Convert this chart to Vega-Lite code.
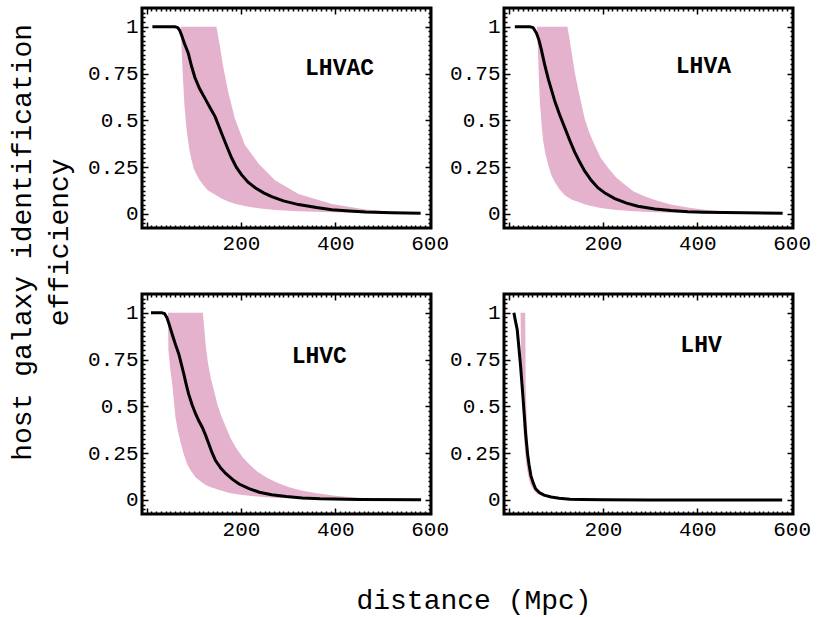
{
  "$schema": "https://vega.github.io/schema/vega-lite/v6.json",
  "padding": {"left": 9, "top": 0, "right": 0, "bottom": 0},
  "background": "white",
  "config": {
    "view": {"stroke": "black", "strokeWidth": 3},
    "axis": {"domain": false, "grid": false, "tickColor": "black", "tickWidth": 1.5, "labelFont": "Liberation Mono", "labelFontSize": 21, "labelColor": "black", "labelPadding": 10, "labelOverlap": false, "labelFlush": false, "labelBound": false, "title": null},
    "title": {"font": "Liberation Mono", "fontSize": 28, "fontWeight": "normal", "color": "black"}
  },
  "datasets": {
    "band": [
      {"panel": "LHVAC", "d": 72, "lo": 1, "hi": 1},
      {"panel": "LHVAC", "d": 74, "lo": 0.88, "hi": 1},
      {"panel": "LHVAC", "d": 77, "lo": 0.72, "hi": 1},
      {"panel": "LHVAC", "d": 80, "lo": 0.58, "hi": 1},
      {"panel": "LHVAC", "d": 85, "lo": 0.44, "hi": 1},
      {"panel": "LHVAC", "d": 90, "lo": 0.35, "hi": 1},
      {"panel": "LHVAC", "d": 95, "lo": 0.29, "hi": 1},
      {"panel": "LHVAC", "d": 100, "lo": 0.24, "hi": 1},
      {"panel": "LHVAC", "d": 110, "lo": 0.19, "hi": 1},
      {"panel": "LHVAC", "d": 120, "lo": 0.155, "hi": 1},
      {"panel": "LHVAC", "d": 130, "lo": 0.125, "hi": 1},
      {"panel": "LHVAC", "d": 148, "lo": 0.098, "hi": 1},
      {"panel": "LHVAC", "d": 155, "lo": 0.088, "hi": 0.9},
      {"panel": "LHVAC", "d": 162, "lo": 0.078, "hi": 0.79},
      {"panel": "LHVAC", "d": 173, "lo": 0.066, "hi": 0.65},
      {"panel": "LHVAC", "d": 187, "lo": 0.055, "hi": 0.51},
      {"panel": "LHVAC", "d": 208, "lo": 0.042, "hi": 0.37},
      {"panel": "LHVAC", "d": 237, "lo": 0.03, "hi": 0.27},
      {"panel": "LHVAC", "d": 272, "lo": 0.021, "hi": 0.18},
      {"panel": "LHVAC", "d": 322, "lo": 0.014, "hi": 0.107},
      {"panel": "LHVAC", "d": 393, "lo": 0.009, "hi": 0.053},
      {"panel": "LHVAC", "d": 464, "lo": 0.006, "hi": 0.024},
      {"panel": "LHVAC", "d": 520, "lo": 0.004, "hi": 0.012},
      {"panel": "LHVAC", "d": 580, "lo": 0.003, "hi": 0.006},
      {"panel": "LHVA", "d": 60, "lo": 1, "hi": 1},
      {"panel": "LHVA", "d": 62, "lo": 0.88, "hi": 1},
      {"panel": "LHVA", "d": 64, "lo": 0.72, "hi": 1},
      {"panel": "LHVA", "d": 66, "lo": 0.6, "hi": 1},
      {"panel": "LHVA", "d": 70, "lo": 0.47, "hi": 1},
      {"panel": "LHVA", "d": 73, "lo": 0.39, "hi": 1},
      {"panel": "LHVA", "d": 78, "lo": 0.32, "hi": 1},
      {"panel": "LHVA", "d": 84, "lo": 0.26, "hi": 1},
      {"panel": "LHVA", "d": 90, "lo": 0.21, "hi": 1},
      {"panel": "LHVA", "d": 98, "lo": 0.17, "hi": 1},
      {"panel": "LHVA", "d": 108, "lo": 0.13, "hi": 1},
      {"panel": "LHVA", "d": 119, "lo": 0.1, "hi": 1},
      {"panel": "LHVA", "d": 124.5, "lo": 0.09, "hi": 1},
      {"panel": "LHVA", "d": 128, "lo": 0.085, "hi": 0.95},
      {"panel": "LHVA", "d": 133, "lo": 0.077, "hi": 0.87},
      {"panel": "LHVA", "d": 140, "lo": 0.07, "hi": 0.76},
      {"panel": "LHVA", "d": 147, "lo": 0.065, "hi": 0.67},
      {"panel": "LHVA", "d": 154, "lo": 0.059, "hi": 0.59},
      {"panel": "LHVA", "d": 161, "lo": 0.052, "hi": 0.51},
      {"panel": "LHVA", "d": 170, "lo": 0.045, "hi": 0.44},
      {"panel": "LHVA", "d": 182, "lo": 0.038, "hi": 0.37},
      {"panel": "LHVA", "d": 195, "lo": 0.032, "hi": 0.3},
      {"panel": "LHVA", "d": 211, "lo": 0.026, "hi": 0.245},
      {"panel": "LHVA", "d": 228, "lo": 0.021, "hi": 0.195},
      {"panel": "LHVA", "d": 246, "lo": 0.018, "hi": 0.157},
      {"panel": "LHVA", "d": 265, "lo": 0.015, "hi": 0.12},
      {"panel": "LHVA", "d": 288, "lo": 0.012, "hi": 0.094},
      {"panel": "LHVA", "d": 315, "lo": 0.009, "hi": 0.07},
      {"panel": "LHVA", "d": 344, "lo": 0.007, "hi": 0.05},
      {"panel": "LHVA", "d": 380, "lo": 0.005, "hi": 0.034},
      {"panel": "LHVA", "d": 415, "lo": 0.004, "hi": 0.023},
      {"panel": "LHVA", "d": 450, "lo": 0.003, "hi": 0.015},
      {"panel": "LHVA", "d": 486, "lo": 0.003, "hi": 0.01},
      {"panel": "LHVA", "d": 530, "lo": 0.002, "hi": 0.006},
      {"panel": "LHVC", "d": 45, "lo": 1, "hi": 1},
      {"panel": "LHVC", "d": 46, "lo": 0.8, "hi": 1},
      {"panel": "LHVC", "d": 50, "lo": 0.7, "hi": 1},
      {"panel": "LHVC", "d": 54, "lo": 0.62, "hi": 1},
      {"panel": "LHVC", "d": 58, "lo": 0.52, "hi": 1},
      {"panel": "LHVC", "d": 61, "lo": 0.44, "hi": 1},
      {"panel": "LHVC", "d": 66, "lo": 0.37, "hi": 1},
      {"panel": "LHVC", "d": 71, "lo": 0.316, "hi": 1},
      {"panel": "LHVC", "d": 78, "lo": 0.25, "hi": 1},
      {"panel": "LHVC", "d": 86, "lo": 0.19, "hi": 1},
      {"panel": "LHVC", "d": 95, "lo": 0.15, "hi": 1},
      {"panel": "LHVC", "d": 104, "lo": 0.12, "hi": 1},
      {"panel": "LHVC", "d": 119, "lo": 0.09, "hi": 1},
      {"panel": "LHVC", "d": 122, "lo": 0.085, "hi": 0.92},
      {"panel": "LHVC", "d": 125, "lo": 0.08, "hi": 0.83},
      {"panel": "LHVC", "d": 130, "lo": 0.074, "hi": 0.73},
      {"panel": "LHVC", "d": 136, "lo": 0.068, "hi": 0.65},
      {"panel": "LHVC", "d": 143, "lo": 0.062, "hi": 0.58},
      {"panel": "LHVC", "d": 150, "lo": 0.056, "hi": 0.51},
      {"panel": "LHVC", "d": 158, "lo": 0.05, "hi": 0.45},
      {"panel": "LHVC", "d": 168, "lo": 0.042, "hi": 0.39},
      {"panel": "LHVC", "d": 178, "lo": 0.036, "hi": 0.33},
      {"panel": "LHVC", "d": 189, "lo": 0.032, "hi": 0.28},
      {"panel": "LHVC", "d": 203, "lo": 0.026, "hi": 0.23},
      {"panel": "LHVC", "d": 218, "lo": 0.022, "hi": 0.19},
      {"panel": "LHVC", "d": 235, "lo": 0.018, "hi": 0.15},
      {"panel": "LHVC", "d": 254, "lo": 0.014, "hi": 0.12},
      {"panel": "LHVC", "d": 278, "lo": 0.011, "hi": 0.09},
      {"panel": "LHVC", "d": 304, "lo": 0.009, "hi": 0.067},
      {"panel": "LHVC", "d": 330, "lo": 0.006, "hi": 0.049},
      {"panel": "LHVC", "d": 361, "lo": 0.005, "hi": 0.036},
      {"panel": "LHVC", "d": 395, "lo": 0.004, "hi": 0.024},
      {"panel": "LHVC", "d": 432, "lo": 0.003, "hi": 0.014},
      {"panel": "LHVC", "d": 470, "lo": 0.002, "hi": 0.009},
      {"panel": "LHVC", "d": 504, "lo": 0.002, "hi": 0.005},
      {"panel": "LHVC", "d": 540, "lo": 0.001, "hi": 0.003},
      {"panel": "LHV", "d": 25, "lo": 1, "hi": 1},
      {"panel": "LHV", "d": 26, "lo": 0.8, "hi": 1},
      {"panel": "LHV", "d": 28, "lo": 0.62, "hi": 1},
      {"panel": "LHV", "d": 30, "lo": 0.45, "hi": 1},
      {"panel": "LHV", "d": 32, "lo": 0.35, "hi": 1},
      {"panel": "LHV", "d": 34, "lo": 0.28, "hi": 1},
      {"panel": "LHV", "d": 35, "lo": 0.25, "hi": 1},
      {"panel": "LHV", "d": 36, "lo": 0.22, "hi": 0.62},
      {"panel": "LHV", "d": 38, "lo": 0.18, "hi": 0.45},
      {"panel": "LHV", "d": 40, "lo": 0.15, "hi": 0.34},
      {"panel": "LHV", "d": 43, "lo": 0.11, "hi": 0.24},
      {"panel": "LHV", "d": 47, "lo": 0.08, "hi": 0.16},
      {"panel": "LHV", "d": 50, "lo": 0.065, "hi": 0.12},
      {"panel": "LHV", "d": 55, "lo": 0.045, "hi": 0.08},
      {"panel": "LHV", "d": 60, "lo": 0.035, "hi": 0.06},
      {"panel": "LHV", "d": 68, "lo": 0.024, "hi": 0.04},
      {"panel": "LHV", "d": 75, "lo": 0.018, "hi": 0.03},
      {"panel": "LHV", "d": 86, "lo": 0.012, "hi": 0.02},
      {"panel": "LHV", "d": 100, "lo": 0.007, "hi": 0.012},
      {"panel": "LHV", "d": 120, "lo": 0.004, "hi": 0.006}
    ],
    "line": [
      {"panel": "LHVAC", "d": 12, "e": 1},
      {"panel": "LHVAC", "d": 40, "e": 1},
      {"panel": "LHVAC", "d": 60, "e": 1},
      {"panel": "LHVAC", "d": 66, "e": 0.995},
      {"panel": "LHVAC", "d": 70, "e": 0.98},
      {"panel": "LHVAC", "d": 74, "e": 0.955},
      {"panel": "LHVAC", "d": 80, "e": 0.91},
      {"panel": "LHVAC", "d": 88, "e": 0.86},
      {"panel": "LHVAC", "d": 95, "e": 0.79},
      {"panel": "LHVAC", "d": 102, "e": 0.73},
      {"panel": "LHVAC", "d": 112, "e": 0.67},
      {"panel": "LHVAC", "d": 123, "e": 0.62},
      {"panel": "LHVAC", "d": 135, "e": 0.565},
      {"panel": "LHVAC", "d": 145, "e": 0.52},
      {"panel": "LHVAC", "d": 152, "e": 0.475},
      {"panel": "LHVAC", "d": 159, "e": 0.43},
      {"panel": "LHVAC", "d": 170, "e": 0.36},
      {"panel": "LHVAC", "d": 180, "e": 0.3},
      {"panel": "LHVAC", "d": 190, "e": 0.25},
      {"panel": "LHVAC", "d": 201, "e": 0.21},
      {"panel": "LHVAC", "d": 215, "e": 0.17},
      {"panel": "LHVAC", "d": 230, "e": 0.14},
      {"panel": "LHVAC", "d": 248, "e": 0.113},
      {"panel": "LHVAC", "d": 265, "e": 0.093},
      {"panel": "LHVAC", "d": 290, "e": 0.07},
      {"panel": "LHVAC", "d": 322, "e": 0.05},
      {"panel": "LHVAC", "d": 360, "e": 0.034},
      {"panel": "LHVAC", "d": 393, "e": 0.023},
      {"panel": "LHVAC", "d": 430, "e": 0.016},
      {"panel": "LHVAC", "d": 464, "e": 0.011},
      {"panel": "LHVAC", "d": 520, "e": 0.007},
      {"panel": "LHVAC", "d": 581, "e": 0.004},
      {"panel": "LHVA", "d": 13, "e": 1},
      {"panel": "LHVA", "d": 45, "e": 1},
      {"panel": "LHVA", "d": 52, "e": 0.995},
      {"panel": "LHVA", "d": 59, "e": 0.965},
      {"panel": "LHVA", "d": 64, "e": 0.93},
      {"panel": "LHVA", "d": 69, "e": 0.88},
      {"panel": "LHVA", "d": 76, "e": 0.8},
      {"panel": "LHVA", "d": 84, "e": 0.72},
      {"panel": "LHVA", "d": 91, "e": 0.66},
      {"panel": "LHVA", "d": 98, "e": 0.6},
      {"panel": "LHVA", "d": 108, "e": 0.53},
      {"panel": "LHVA", "d": 119, "e": 0.46},
      {"panel": "LHVA", "d": 130, "e": 0.39},
      {"panel": "LHVA", "d": 140, "e": 0.33},
      {"panel": "LHVA", "d": 150, "e": 0.28},
      {"panel": "LHVA", "d": 161, "e": 0.23},
      {"panel": "LHVA", "d": 175, "e": 0.18},
      {"panel": "LHVA", "d": 189, "e": 0.14},
      {"panel": "LHVA", "d": 205, "e": 0.11},
      {"panel": "LHVA", "d": 225, "e": 0.082},
      {"panel": "LHVA", "d": 250, "e": 0.058},
      {"panel": "LHVA", "d": 274, "e": 0.041},
      {"panel": "LHVA", "d": 310, "e": 0.027},
      {"panel": "LHVA", "d": 344, "e": 0.018},
      {"panel": "LHVA", "d": 380, "e": 0.012},
      {"panel": "LHVA", "d": 415, "e": 0.009},
      {"panel": "LHVA", "d": 500, "e": 0.006},
      {"panel": "LHVA", "d": 581, "e": 0.004},
      {"panel": "LHVC", "d": 9, "e": 1},
      {"panel": "LHVC", "d": 32, "e": 1},
      {"panel": "LHVC", "d": 38, "e": 0.995},
      {"panel": "LHVC", "d": 43, "e": 0.973},
      {"panel": "LHVC", "d": 48, "e": 0.935},
      {"panel": "LHVC", "d": 54, "e": 0.885},
      {"panel": "LHVC", "d": 61, "e": 0.83},
      {"panel": "LHVC", "d": 68, "e": 0.78},
      {"panel": "LHVC", "d": 74, "e": 0.72},
      {"panel": "LHVC", "d": 79, "e": 0.67},
      {"panel": "LHVC", "d": 84, "e": 0.615},
      {"panel": "LHVC", "d": 89, "e": 0.565},
      {"panel": "LHVC", "d": 96, "e": 0.51},
      {"panel": "LHVC", "d": 104, "e": 0.458},
      {"panel": "LHVC", "d": 111, "e": 0.42},
      {"panel": "LHVC", "d": 118, "e": 0.387},
      {"panel": "LHVC", "d": 125, "e": 0.345},
      {"panel": "LHVC", "d": 132, "e": 0.298},
      {"panel": "LHVC", "d": 139, "e": 0.25},
      {"panel": "LHVC", "d": 146, "e": 0.21},
      {"panel": "LHVC", "d": 157, "e": 0.17},
      {"panel": "LHVC", "d": 168, "e": 0.14},
      {"panel": "LHVC", "d": 182, "e": 0.11},
      {"panel": "LHVC", "d": 196, "e": 0.085},
      {"panel": "LHVC", "d": 217, "e": 0.06},
      {"panel": "LHVC", "d": 239, "e": 0.041},
      {"panel": "LHVC", "d": 265, "e": 0.028},
      {"panel": "LHVC", "d": 296, "e": 0.018},
      {"panel": "LHVC", "d": 330, "e": 0.011},
      {"panel": "LHVC", "d": 368, "e": 0.006},
      {"panel": "LHVC", "d": 450, "e": 0.003},
      {"panel": "LHVC", "d": 582, "e": 0.001},
      {"panel": "LHV", "d": 11, "e": 1},
      {"panel": "LHV", "d": 14, "e": 0.96},
      {"panel": "LHV", "d": 18, "e": 0.91},
      {"panel": "LHV", "d": 21, "e": 0.83},
      {"panel": "LHV", "d": 25, "e": 0.72},
      {"panel": "LHV", "d": 29, "e": 0.59},
      {"panel": "LHV", "d": 33, "e": 0.455},
      {"panel": "LHV", "d": 36, "e": 0.35},
      {"panel": "LHV", "d": 40, "e": 0.245},
      {"panel": "LHV", "d": 43, "e": 0.19},
      {"panel": "LHV", "d": 47, "e": 0.13},
      {"panel": "LHV", "d": 52, "e": 0.09},
      {"panel": "LHV", "d": 57, "e": 0.06},
      {"panel": "LHV", "d": 65, "e": 0.04},
      {"panel": "LHV", "d": 75, "e": 0.026},
      {"panel": "LHV", "d": 90, "e": 0.016},
      {"panel": "LHV", "d": 107, "e": 0.009},
      {"panel": "LHV", "d": 130, "e": 0.004},
      {"panel": "LHV", "d": 156, "e": 0.002},
      {"panel": "LHV", "d": 200, "e": 0.001},
      {"panel": "LHV", "d": 300, "e": 0},
      {"panel": "LHV", "d": 580, "e": 0}
    ],
    "labels": [
      {"panel": "LHVAC", "lx": 409, "ly": 0.78},
      {"panel": "LHVA", "lx": 413, "ly": 0.79},
      {"panel": "LHVC", "lx": 366, "ly": 0.77},
      {"panel": "LHV", "lx": 408, "ly": 0.83}
    ]
  },
  "title": {"text": ["host galaxy identification", "efficiency"], "orient": "left", "anchor": "middle", "lineHeight": 37, "offset": 12, "dx": 65},
  "vconcat": [
    {
      "title": {"text": "distance (Mpc)", "orient": "bottom", "anchor": "middle", "offset": 43, "dx": 25},
      "columns": 2,
      "spacing": {"row": 66, "column": 73},
      "bounds": "flush",
      "concat": [
        {
          "width": 289, "height": 220,
          "layer": [
            {"data": {"name": "band"}, "transform": [{"filter": "datum.panel === 'LHVAC'"}],
             "mark": {"type": "area", "color": "#e4b2cc", "opacity": 1},
             "encoding": {
               "x": {"field": "d", "type": "quantitative", "scale": {"domain": [-10, 603], "nice": false, "zero": false},
                     "axis": {"orient": "bottom", "values": [0,10,20,30,40,50,60,70,80,90,100,110,120,130,140,150,160,170,180,190,200,210,220,230,240,250,260,270,280,290,300,310,320,330,340,350,360,370,380,390,400,410,420,430,440,450,460,470,480,490,500,510,520,530,540,550,560,570,580,590,600], "tickSize": {"condition": {"test": "datum.value % 200 === 0", "value": -6}, "value": -3}, "labelExpr": "datum.value % 200 === 0 && datum.value > 0 ? '' + datum.value : ''"}},
               "y": {"field": "lo", "type": "quantitative", "scale": {"domain": [-0.075, 1.1], "nice": false, "zero": false},
                     "axis": {"orient": "left", "values": [-0.05,-0.025,0,0.025,0.05,0.075,0.1,0.125,0.15,0.175,0.2,0.225,0.25,0.275,0.3,0.325,0.35,0.375,0.4,0.425,0.45,0.475,0.5,0.525,0.55,0.575,0.6,0.625,0.65,0.675,0.7,0.725,0.75,0.775,0.8,0.825,0.85,0.875,0.9,0.925,0.95,0.975,1,1.025,1.05,1.075], "tickSize": {"condition": {"test": "abs(datum.value*4 - round(datum.value*4)) < 0.001", "value": -6}, "value": -3}, "labelExpr": "abs(datum.value*4 - round(datum.value*4)) < 0.001 && datum.value >= 0 && datum.value <= 1 ? '' + datum.value : ''"}},
               "y2": {"field": "hi"}
             }},
            {"data": {"name": "line"}, "transform": [{"filter": "datum.panel === 'LHVAC'"}],
             "mark": {"type": "line", "color": "black", "strokeWidth": 3},
             "encoding": {
               "x": {"field": "d", "type": "quantitative", "scale": {"domain": [-10, 603], "nice": false, "zero": false},
                     "axis": {"orient": "top", "labels": false, "values": [0,10,20,30,40,50,60,70,80,90,100,110,120,130,140,150,160,170,180,190,200,210,220,230,240,250,260,270,280,290,300,310,320,330,340,350,360,370,380,390,400,410,420,430,440,450,460,470,480,490,500,510,520,530,540,550,560,570,580,590,600], "tickSize": {"condition": {"test": "datum.value % 200 === 0", "value": -6}, "value": -3}}},
               "y": {"field": "e", "type": "quantitative", "scale": {"domain": [-0.075, 1.1], "nice": false, "zero": false},
                     "axis": {"orient": "right", "labels": false, "values": [-0.05,-0.025,0,0.025,0.05,0.075,0.1,0.125,0.15,0.175,0.2,0.225,0.25,0.275,0.3,0.325,0.35,0.375,0.4,0.425,0.45,0.475,0.5,0.525,0.55,0.575,0.6,0.625,0.65,0.675,0.7,0.725,0.75,0.775,0.8,0.825,0.85,0.875,0.9,0.925,0.95,0.975,1,1.025,1.05,1.075], "tickSize": {"condition": {"test": "abs(datum.value*4 - round(datum.value*4)) < 0.001", "value": -6}, "value": -3}}}
             }},
            {"data": {"name": "labels"}, "transform": [{"filter": "datum.panel === 'LHVAC'"}],
             "mark": {"type": "text", "font": "Liberation Mono", "fontWeight": "bold", "fontSize": 23, "color": "black"},
             "encoding": {
               "x": {"field": "lx", "type": "quantitative", "axis": null},
               "y": {"field": "ly", "type": "quantitative", "axis": null},
               "text": {"field": "panel"}
             }}
          ],
          "resolve": {"axis": {"x": "independent", "y": "independent"}}
        },
        {
          "width": 289, "height": 220,
          "layer": [
            {"data": {"name": "band"}, "transform": [{"filter": "datum.panel === 'LHVA'"}],
             "mark": {"type": "area", "color": "#e4b2cc", "opacity": 1},
             "encoding": {
               "x": {"field": "d", "type": "quantitative", "scale": {"domain": [-10, 603], "nice": false, "zero": false},
                     "axis": {"orient": "bottom", "values": [0,10,20,30,40,50,60,70,80,90,100,110,120,130,140,150,160,170,180,190,200,210,220,230,240,250,260,270,280,290,300,310,320,330,340,350,360,370,380,390,400,410,420,430,440,450,460,470,480,490,500,510,520,530,540,550,560,570,580,590,600], "tickSize": {"condition": {"test": "datum.value % 200 === 0", "value": -6}, "value": -3}, "labelExpr": "datum.value % 200 === 0 && datum.value > 0 ? '' + datum.value : ''"}},
               "y": {"field": "lo", "type": "quantitative", "scale": {"domain": [-0.075, 1.1], "nice": false, "zero": false},
                     "axis": {"orient": "left", "values": [-0.05,-0.025,0,0.025,0.05,0.075,0.1,0.125,0.15,0.175,0.2,0.225,0.25,0.275,0.3,0.325,0.35,0.375,0.4,0.425,0.45,0.475,0.5,0.525,0.55,0.575,0.6,0.625,0.65,0.675,0.7,0.725,0.75,0.775,0.8,0.825,0.85,0.875,0.9,0.925,0.95,0.975,1,1.025,1.05,1.075], "tickSize": {"condition": {"test": "abs(datum.value*4 - round(datum.value*4)) < 0.001", "value": -6}, "value": -3}, "labelExpr": "abs(datum.value*4 - round(datum.value*4)) < 0.001 && datum.value >= 0 && datum.value <= 1 ? '' + datum.value : ''"}},
               "y2": {"field": "hi"}
             }},
            {"data": {"name": "line"}, "transform": [{"filter": "datum.panel === 'LHVA'"}],
             "mark": {"type": "line", "color": "black", "strokeWidth": 3},
             "encoding": {
               "x": {"field": "d", "type": "quantitative", "scale": {"domain": [-10, 603], "nice": false, "zero": false},
                     "axis": {"orient": "top", "labels": false, "values": [0,10,20,30,40,50,60,70,80,90,100,110,120,130,140,150,160,170,180,190,200,210,220,230,240,250,260,270,280,290,300,310,320,330,340,350,360,370,380,390,400,410,420,430,440,450,460,470,480,490,500,510,520,530,540,550,560,570,580,590,600], "tickSize": {"condition": {"test": "datum.value % 200 === 0", "value": -6}, "value": -3}}},
               "y": {"field": "e", "type": "quantitative", "scale": {"domain": [-0.075, 1.1], "nice": false, "zero": false},
                     "axis": {"orient": "right", "labels": false, "values": [-0.05,-0.025,0,0.025,0.05,0.075,0.1,0.125,0.15,0.175,0.2,0.225,0.25,0.275,0.3,0.325,0.35,0.375,0.4,0.425,0.45,0.475,0.5,0.525,0.55,0.575,0.6,0.625,0.65,0.675,0.7,0.725,0.75,0.775,0.8,0.825,0.85,0.875,0.9,0.925,0.95,0.975,1,1.025,1.05,1.075], "tickSize": {"condition": {"test": "abs(datum.value*4 - round(datum.value*4)) < 0.001", "value": -6}, "value": -3}}}
             }},
            {"data": {"name": "labels"}, "transform": [{"filter": "datum.panel === 'LHVA'"}],
             "mark": {"type": "text", "font": "Liberation Mono", "fontWeight": "bold", "fontSize": 23, "color": "black"},
             "encoding": {
               "x": {"field": "lx", "type": "quantitative", "axis": null},
               "y": {"field": "ly", "type": "quantitative", "axis": null},
               "text": {"field": "panel"}
             }}
          ],
          "resolve": {"axis": {"x": "independent", "y": "independent"}}
        },
        {
          "width": 289, "height": 220,
          "layer": [
            {"data": {"name": "band"}, "transform": [{"filter": "datum.panel === 'LHVC'"}],
             "mark": {"type": "area", "color": "#e4b2cc", "opacity": 1},
             "encoding": {
               "x": {"field": "d", "type": "quantitative", "scale": {"domain": [-10, 603], "nice": false, "zero": false},
                     "axis": {"orient": "bottom", "values": [0,10,20,30,40,50,60,70,80,90,100,110,120,130,140,150,160,170,180,190,200,210,220,230,240,250,260,270,280,290,300,310,320,330,340,350,360,370,380,390,400,410,420,430,440,450,460,470,480,490,500,510,520,530,540,550,560,570,580,590,600], "tickSize": {"condition": {"test": "datum.value % 200 === 0", "value": -6}, "value": -3}, "labelExpr": "datum.value % 200 === 0 && datum.value > 0 ? '' + datum.value : ''"}},
               "y": {"field": "lo", "type": "quantitative", "scale": {"domain": [-0.075, 1.1], "nice": false, "zero": false},
                     "axis": {"orient": "left", "values": [-0.05,-0.025,0,0.025,0.05,0.075,0.1,0.125,0.15,0.175,0.2,0.225,0.25,0.275,0.3,0.325,0.35,0.375,0.4,0.425,0.45,0.475,0.5,0.525,0.55,0.575,0.6,0.625,0.65,0.675,0.7,0.725,0.75,0.775,0.8,0.825,0.85,0.875,0.9,0.925,0.95,0.975,1,1.025,1.05,1.075], "tickSize": {"condition": {"test": "abs(datum.value*4 - round(datum.value*4)) < 0.001", "value": -6}, "value": -3}, "labelExpr": "abs(datum.value*4 - round(datum.value*4)) < 0.001 && datum.value >= 0 && datum.value <= 1 ? '' + datum.value : ''"}},
               "y2": {"field": "hi"}
             }},
            {"data": {"name": "line"}, "transform": [{"filter": "datum.panel === 'LHVC'"}],
             "mark": {"type": "line", "color": "black", "strokeWidth": 3},
             "encoding": {
               "x": {"field": "d", "type": "quantitative", "scale": {"domain": [-10, 603], "nice": false, "zero": false},
                     "axis": {"orient": "top", "labels": false, "values": [0,10,20,30,40,50,60,70,80,90,100,110,120,130,140,150,160,170,180,190,200,210,220,230,240,250,260,270,280,290,300,310,320,330,340,350,360,370,380,390,400,410,420,430,440,450,460,470,480,490,500,510,520,530,540,550,560,570,580,590,600], "tickSize": {"condition": {"test": "datum.value % 200 === 0", "value": -6}, "value": -3}}},
               "y": {"field": "e", "type": "quantitative", "scale": {"domain": [-0.075, 1.1], "nice": false, "zero": false},
                     "axis": {"orient": "right", "labels": false, "values": [-0.05,-0.025,0,0.025,0.05,0.075,0.1,0.125,0.15,0.175,0.2,0.225,0.25,0.275,0.3,0.325,0.35,0.375,0.4,0.425,0.45,0.475,0.5,0.525,0.55,0.575,0.6,0.625,0.65,0.675,0.7,0.725,0.75,0.775,0.8,0.825,0.85,0.875,0.9,0.925,0.95,0.975,1,1.025,1.05,1.075], "tickSize": {"condition": {"test": "abs(datum.value*4 - round(datum.value*4)) < 0.001", "value": -6}, "value": -3}}}
             }},
            {"data": {"name": "labels"}, "transform": [{"filter": "datum.panel === 'LHVC'"}],
             "mark": {"type": "text", "font": "Liberation Mono", "fontWeight": "bold", "fontSize": 23, "color": "black"},
             "encoding": {
               "x": {"field": "lx", "type": "quantitative", "axis": null},
               "y": {"field": "ly", "type": "quantitative", "axis": null},
               "text": {"field": "panel"}
             }}
          ],
          "resolve": {"axis": {"x": "independent", "y": "independent"}}
        },
        {
          "width": 289, "height": 220,
          "layer": [
            {"data": {"name": "band"}, "transform": [{"filter": "datum.panel === 'LHV'"}],
             "mark": {"type": "area", "color": "#e4b2cc", "opacity": 1},
             "encoding": {
               "x": {"field": "d", "type": "quantitative", "scale": {"domain": [-10, 603], "nice": false, "zero": false},
                     "axis": {"orient": "bottom", "values": [0,10,20,30,40,50,60,70,80,90,100,110,120,130,140,150,160,170,180,190,200,210,220,230,240,250,260,270,280,290,300,310,320,330,340,350,360,370,380,390,400,410,420,430,440,450,460,470,480,490,500,510,520,530,540,550,560,570,580,590,600], "tickSize": {"condition": {"test": "datum.value % 200 === 0", "value": -6}, "value": -3}, "labelExpr": "datum.value % 200 === 0 && datum.value > 0 ? '' + datum.value : ''"}},
               "y": {"field": "lo", "type": "quantitative", "scale": {"domain": [-0.075, 1.1], "nice": false, "zero": false},
                     "axis": {"orient": "left", "values": [-0.05,-0.025,0,0.025,0.05,0.075,0.1,0.125,0.15,0.175,0.2,0.225,0.25,0.275,0.3,0.325,0.35,0.375,0.4,0.425,0.45,0.475,0.5,0.525,0.55,0.575,0.6,0.625,0.65,0.675,0.7,0.725,0.75,0.775,0.8,0.825,0.85,0.875,0.9,0.925,0.95,0.975,1,1.025,1.05,1.075], "tickSize": {"condition": {"test": "abs(datum.value*4 - round(datum.value*4)) < 0.001", "value": -6}, "value": -3}, "labelExpr": "abs(datum.value*4 - round(datum.value*4)) < 0.001 && datum.value >= 0 && datum.value <= 1 ? '' + datum.value : ''"}},
               "y2": {"field": "hi"}
             }},
            {"data": {"name": "line"}, "transform": [{"filter": "datum.panel === 'LHV'"}],
             "mark": {"type": "line", "color": "black", "strokeWidth": 3},
             "encoding": {
               "x": {"field": "d", "type": "quantitative", "scale": {"domain": [-10, 603], "nice": false, "zero": false},
                     "axis": {"orient": "top", "labels": false, "values": [0,10,20,30,40,50,60,70,80,90,100,110,120,130,140,150,160,170,180,190,200,210,220,230,240,250,260,270,280,290,300,310,320,330,340,350,360,370,380,390,400,410,420,430,440,450,460,470,480,490,500,510,520,530,540,550,560,570,580,590,600], "tickSize": {"condition": {"test": "datum.value % 200 === 0", "value": -6}, "value": -3}}},
               "y": {"field": "e", "type": "quantitative", "scale": {"domain": [-0.075, 1.1], "nice": false, "zero": false},
                     "axis": {"orient": "right", "labels": false, "values": [-0.05,-0.025,0,0.025,0.05,0.075,0.1,0.125,0.15,0.175,0.2,0.225,0.25,0.275,0.3,0.325,0.35,0.375,0.4,0.425,0.45,0.475,0.5,0.525,0.55,0.575,0.6,0.625,0.65,0.675,0.7,0.725,0.75,0.775,0.8,0.825,0.85,0.875,0.9,0.925,0.95,0.975,1,1.025,1.05,1.075], "tickSize": {"condition": {"test": "abs(datum.value*4 - round(datum.value*4)) < 0.001", "value": -6}, "value": -3}}}
             }},
            {"data": {"name": "labels"}, "transform": [{"filter": "datum.panel === 'LHV'"}],
             "mark": {"type": "text", "font": "Liberation Mono", "fontWeight": "bold", "fontSize": 23, "color": "black"},
             "encoding": {
               "x": {"field": "lx", "type": "quantitative", "axis": null},
               "y": {"field": "ly", "type": "quantitative", "axis": null},
               "text": {"field": "panel"}
             }}
          ],
          "resolve": {"axis": {"x": "independent", "y": "independent"}}
        }
      ]
    }
  ]
}
